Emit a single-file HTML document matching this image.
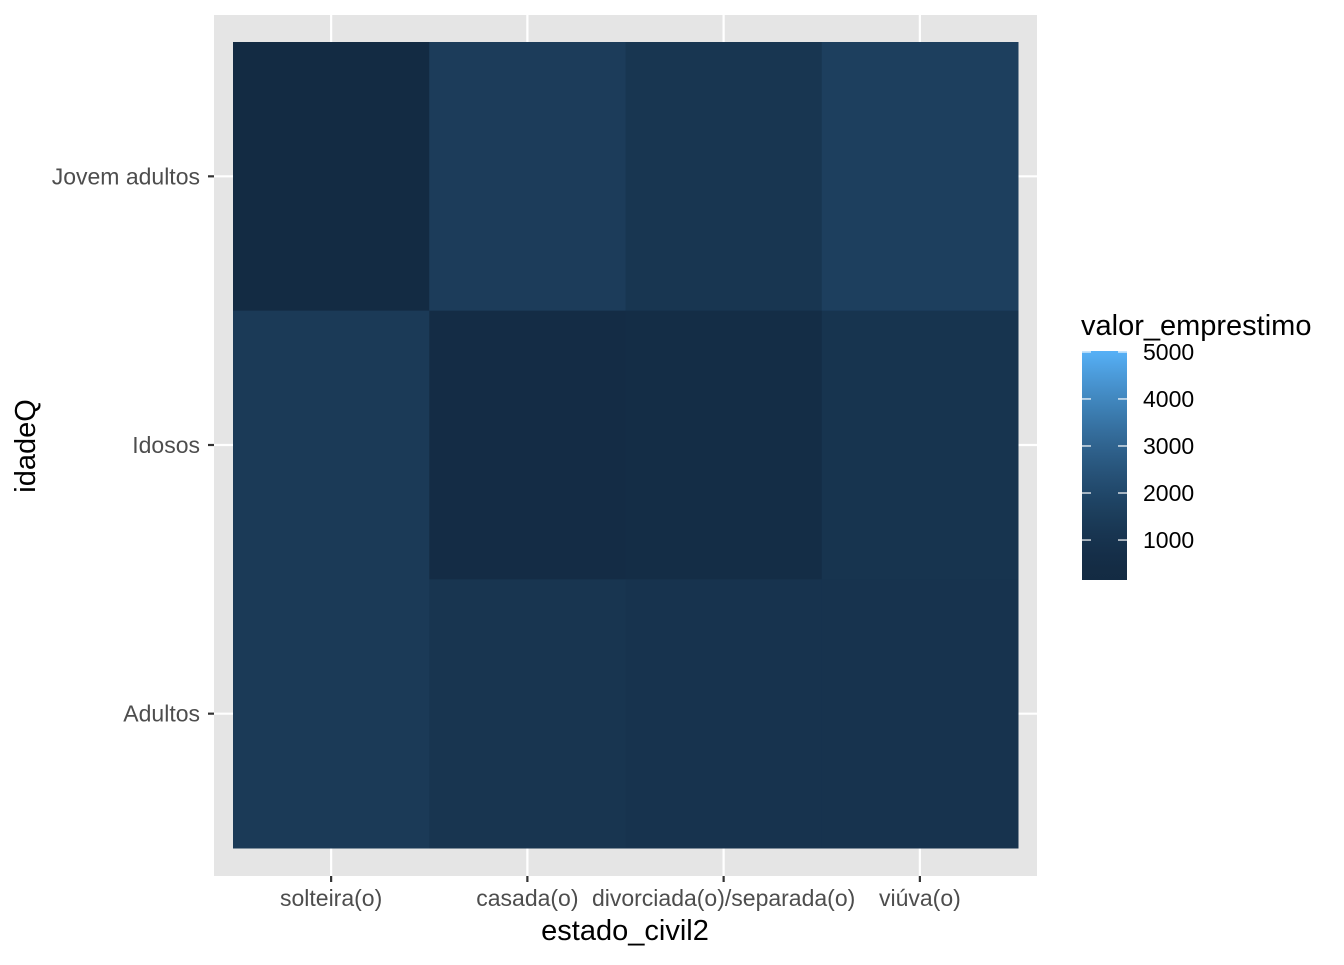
<!DOCTYPE html>
<html><head><meta charset="utf-8"><style>
body{margin:0;background:#fff;}
svg text{font-family:"Liberation Sans",Arial,sans-serif;}
</style></head><body>
<svg id="chart" width="1344" height="960" xmlns="http://www.w3.org/2000/svg">
<rect x="214" y="15" width="823" height="861" fill="#e5e5e5"/>
<g id="grid"></g><g id="tiles"></g><g id="axes"></g><g id="legend"></g>
<text x="625" y="940" font-size="29" text-anchor="middle" fill="#000">estado_civil2</text>
<text transform="translate(35,446) rotate(-90)" font-size="29" text-anchor="middle" fill="#000">idadeQ</text>
<text x="1081" y="335" font-size="29" fill="#000">valor_emprestimo</text>
</svg>
<script>
const categories = ["solteira(o)","casada(o)","divorciada(o)/separada(o)","viúva(o)"];
const rows = ["Jovem adultos","Idosos","Adultos"];
const valuesJovem = [150,1500,1150,1650];
const valuesIdosos = [1400,400,500,1050];
const valuesAdultos = [1400,1100,1000,1000];
const legendTicks = [1000,2000,3000,4000,5000];
const domain = [150,5020];

const NS="http://www.w3.org/2000/svg";
const svg=document.getElementById('chart');
const px0=233, px1=1018, py0=42, py1=848;
const cw=(px1-px0)/categories.length, rh=(py1-py0)/rows.length;
const xC=i=>px0+cw*(i+0.5), yC=j=>py0+rh*(j+0.5);
const lo=[19,43,67], hi=[86,177,247];
function colT(t){t=Math.pow(Math.max(0,Math.min(1,t)),1.6);
return 'rgb('+lo.map((a,k)=>Math.round(a+(hi[k]-a)*t)).join(',')+')';}
function col(v){return colT((v-domain[0])/(domain[1]-domain[0]));}
function mk(tag,attrs,parent){const e=document.createElementNS(NS,tag);for(const k in attrs)e.setAttribute(k,attrs[k]);parent.appendChild(e);return e;}
const grid=document.getElementById('grid'),tiles=document.getElementById('tiles'),axes=document.getElementById('axes'),leg=document.getElementById('legend');
categories.forEach((c,i)=>{const l=mk('line',{x1:xC(i),x2:xC(i),y1:15,y2:876,stroke:'#fff','stroke-width':2.2},grid);

});
rows.forEach((r,j)=>{const l=mk('line',{x1:214,x2:1037,y1:yC(j),y2:yC(j),stroke:'#fff','stroke-width':2.2},grid);

});
const data=[valuesJovem,valuesIdosos,valuesAdultos];
data.forEach((vals,j)=>vals.forEach((v,i)=>{
const r=mk('rect',{x:px0+cw*i,y:py0+rh*j,width:cw+0.5,height:rh+0.5,fill:col(v)},tiles);

}));
categories.forEach((c,i)=>{
const t=mk('line',{x1:xC(i),x2:xC(i),y1:876,y2:882,stroke:'#333','stroke-width':2.2},axes);


const tx=mk('text',{x:xC(i),y:906,'font-size':23,'text-anchor':'middle',fill:'#4d4d4d'},axes);tx.textContent=c;

});
rows.forEach((r,j)=>{
const t=mk('line',{x1:208,x2:214,y1:yC(j),y2:yC(j),stroke:'#333','stroke-width':2.2},axes);


const tx=mk('text',{x:200,y:yC(j)+8,'font-size':23,'text-anchor':'end',fill:'#4d4d4d'},axes);tx.textContent=r;

});
// legend
const lx=1082,lw=45,ly0=351,ly1=580;
const ly=v=>ly1-(v-domain[0])/(domain[1]-domain[0])*(ly1-ly0);
const defs=mk('defs',{},leg);const g=mk('linearGradient',{id:'lg',x1:0,y1:1,x2:0,y2:0},defs);
for(let s=0;s<=20;s++){mk('stop',{offset:s/20,'stop-color':colT(s/20)},g);}
const bar=mk('rect',{x:lx,y:ly0,width:lw,height:ly1-ly0,fill:'url(#lg)'},leg);


legendTicks.forEach(v=>{
mk('line',{x1:lx,x2:lx+9,y1:ly(v),y2:ly(v),stroke:'#fff','stroke-width':1.2},leg);
mk('line',{x1:lx+lw-9,x2:lx+lw,y1:ly(v),y2:ly(v),stroke:'#fff','stroke-width':1.2},leg);
const tx=mk('text',{x:1143,y:ly(v)+8,'font-size':23,fill:'#000'},leg);tx.textContent=v;

});
</script>
</body></html>
